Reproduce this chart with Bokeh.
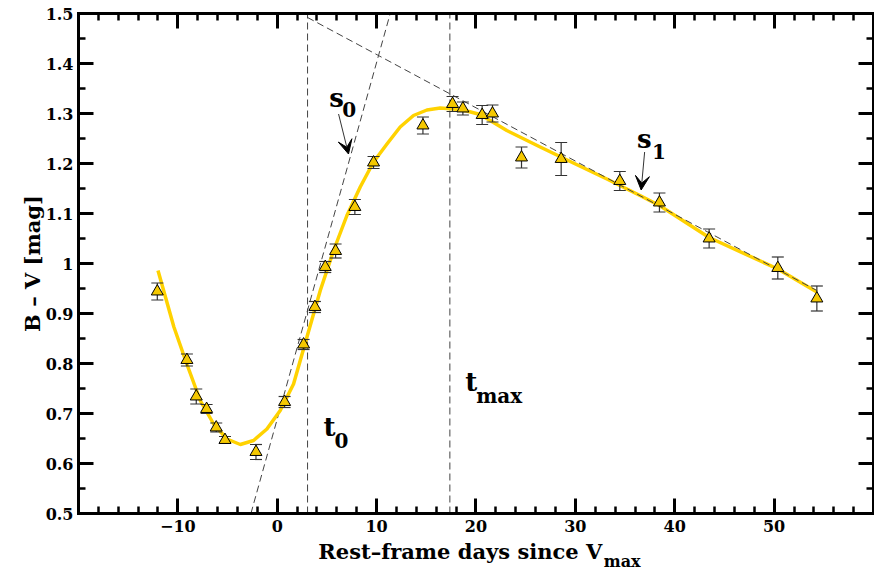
import numpy as np
from bokeh.plotting import figure
from bokeh.models import (Range1d, LinearAxis, SingleIntervalTicker, CustomJSTickFormatter,
                          Label, Arrow, VeeHead)
from bokeh.embed import file_html
from bokeh.resources import INLINE

# ---------------- data ----------------
days = [-12.07, -9.09, -8.15, -7.11, -6.14, -5.26, -2.14, 0.74, 2.65, 3.79, 4.83, 5.87, 7.81,
        9.69, 14.66, 17.64, 18.68, 20.62, 21.66, 24.58, 28.57, 34.47, 38.46, 43.46, 50.37, 54.30]
bv = [0.944, 0.807, 0.734, 0.709, 0.672, 0.647, 0.623, 0.723, 0.838, 0.913, 0.993, 1.025, 1.113,
      1.202, 1.276, 1.319, 1.310, 1.297, 1.300, 1.212, 1.209, 1.165, 1.122, 1.050, 0.991, 0.930]
bv_err = [0.017, 0.012, 0.015, 0.009, 0.009, 0.007, 0.015, 0.011, 0.010, 0.011, 0.011, 0.014, 0.015,
          0.012, 0.017, 0.015, 0.013, 0.019, 0.017, 0.021, 0.033, 0.019, 0.019, 0.019, 0.022, 0.025]

fit_x = [-12.0, -10.4, -9.1, -7.75, -6.4, -5.06, -3.72, -2.38, -1.04, 0.3, 1.64, 2.99, 4.33, 5.67,
         7.01, 8.35, 9.69, 11.04, 12.37, 13.71, 15.06, 16.4, 17.74, 19.08, 20.42, 23.1, 26.46,
         29.8, 33.17, 36.5, 38.46, 43.46, 50.37, 54.3]
fit_y = [0.986, 0.873, 0.799, 0.726, 0.679, 0.649, 0.638, 0.646, 0.669, 0.706, 0.759, 0.853, 0.946,
         1.026, 1.096, 1.153, 1.203, 1.239, 1.273, 1.296, 1.307, 1.311, 1.309, 1.305, 1.298, 1.266,
         1.233, 1.201, 1.169, 1.136, 1.116, 1.052, 0.989, 0.943]

t_marks = [3.05, 17.37]          # t0, tmax
s0_x = [-2.65, 11.37]
s0_y = [0.5, 1.5]
s1_x = [3.05, 54.3]
s1_y = [1.492, 0.946]

x_bounds = (-20, 60)
y_bounds = (0.5, 1.5)

FONT = "DejaVu Serif"

# frame fills the whole canvas; the axes box sits inside at fixed locations
p = figure(width=874, height=570,
           x_range=Range1d(-27.849, 60.1006), y_range=Range1d(0.386, 1.526),
           output_backend="svg", toolbar_location=None, min_border=0)
p.outline_line_color = None
p.xgrid.visible = False
p.ygrid.visible = False
p.background_fill_color = "white"
p.border_fill_color = "white"

xfmt = CustomJSTickFormatter(
    code="if (tick <= -20 || tick >= 60) return ''; return tick < 0 ? '\\u2212' + (-tick) : '' + tick;")
yfmt = CustomJSTickFormatter(code="return '' + (Math.round(tick*100)/100);")
blank = CustomJSTickFormatter(code="return '';")


def style(ax, show):
    ax.axis_line_width = 3
    ax.axis_line_color = "black"
    ax.axis_line_cap = "square"
    ax.major_tick_in = 15
    ax.major_tick_out = 0
    ax.minor_tick_in = 7
    ax.minor_tick_out = 0
    ax.major_tick_line_width = 3
    ax.minor_tick_line_width = 2.5
    ax.major_tick_line_color = "black"
    ax.minor_tick_line_color = "black"
    if show:
        ax.major_label_text_font = FONT
        ax.major_label_text_font_style = "bold"
        ax.major_label_text_font_size = "16px"
        ax.major_label_text_color = "black"
    else:
        ax.major_label_text_font_size = "0px"
        ax.major_label_standoff = 0


bottom = p.xaxis[0]
left = p.yaxis[0]
bottom.ticker = SingleIntervalTicker(interval=10, num_minor_ticks=5)
bottom.formatter = xfmt
left.ticker = SingleIntervalTicker(interval=0.1, num_minor_ticks=2)
left.formatter = yfmt
style(bottom, True)
style(left, True)
bottom.major_label_standoff = 6
left.major_label_standoff = 5
bottom.fixed_location = y_bounds[0]
left.fixed_location = x_bounds[0]
bottom.bounds = x_bounds
left.bounds = y_bounds

top = LinearAxis(ticker=SingleIntervalTicker(interval=10, num_minor_ticks=5), formatter=blank,
                 fixed_location=y_bounds[1], bounds=x_bounds)
right = LinearAxis(ticker=SingleIntervalTicker(interval=0.1, num_minor_ticks=2), formatter=blank,
                   fixed_location=x_bounds[1], bounds=y_bounds)
style(top, False)
style(right, False)
p.add_layout(top, "above")
p.add_layout(right, "right")

# dashed guide lines
DASH = dict(line_color="#444444", line_width=1, line_dash="7 4")
p.segment(x0=t_marks, y0=[y_bounds[0]] * len(t_marks), x1=t_marks, y1=[y_bounds[1]] * len(t_marks),
          **DASH)
p.line(s0_x, s0_y, **DASH)

# fitted curve
p.line(fit_x, fit_y, line_color="#FFD200", line_width=3.5, line_join="round")
p.line(s1_x, s1_y, **DASH)

# error bars
lo = [b - e for b, e in zip(bv, bv_err)]
hi = [b + e for b, e in zip(bv, bv_err)]
p.segment(x0=days, y0=lo, x1=days, y1=hi, line_color="#333333", line_width=1.2)
p.scatter(days, lo, marker="dash", size=12, line_color="#333333", line_width=1.2)
p.scatter(days, hi, marker="dash", size=12, line_color="#333333", line_width=1.2)

# data points
p.scatter(days, bv, marker="triangle", size=12, fill_color="#F5C800", line_color="black",
          line_width=1)

# arrows
p.add_layout(Arrow(end=VeeHead(size=14, fill_color="black", line_color="black"),
                   x_start=6.17, y_start=1.299, x_end=7.17, y_end=1.219,
                   line_color="#333333", line_width=1))
p.add_layout(Arrow(end=VeeHead(size=14, fill_color="black", line_color="black"),
                   x_start=36.97, y_start=1.223, x_end=36.62, y_end=1.147,
                   line_color="#333333", line_width=1))


def lab(x, y, text, size, align="left", angle=0.0):
    p.add_layout(Label(x=x, y=y, text=text, text_font=FONT, text_font_style="bold",
                       text_font_size=size, text_color="black", text_align=align,
                       text_baseline="alphabetic", angle=angle))


# annotations
lab(5.23, 1.332, "s", "26px")
lab(6.54, 1.308, "0", "20px")
lab(36.19, 1.249, "s", "26px")
lab(37.7, 1.225, "1", "20px")
lab(4.66, 0.673, "t", "26px")
lab(5.77, 0.646, "0", "20px")
lab(18.91, 0.763, "t", "26px")
lab(20.02, 0.736, "max", "20px")

# axis titles
lab(32.7, 0.4236, "Rest\u2013frame days since V", "21px", align="right")
lab(32.85, 0.404, "max", "16px")
lab(-24.6, 1.0, "B \u2013 V [mag]", "21px", align="center", angle=np.pi / 2)

open("out.html", "w").write(file_html(p, INLINE))
